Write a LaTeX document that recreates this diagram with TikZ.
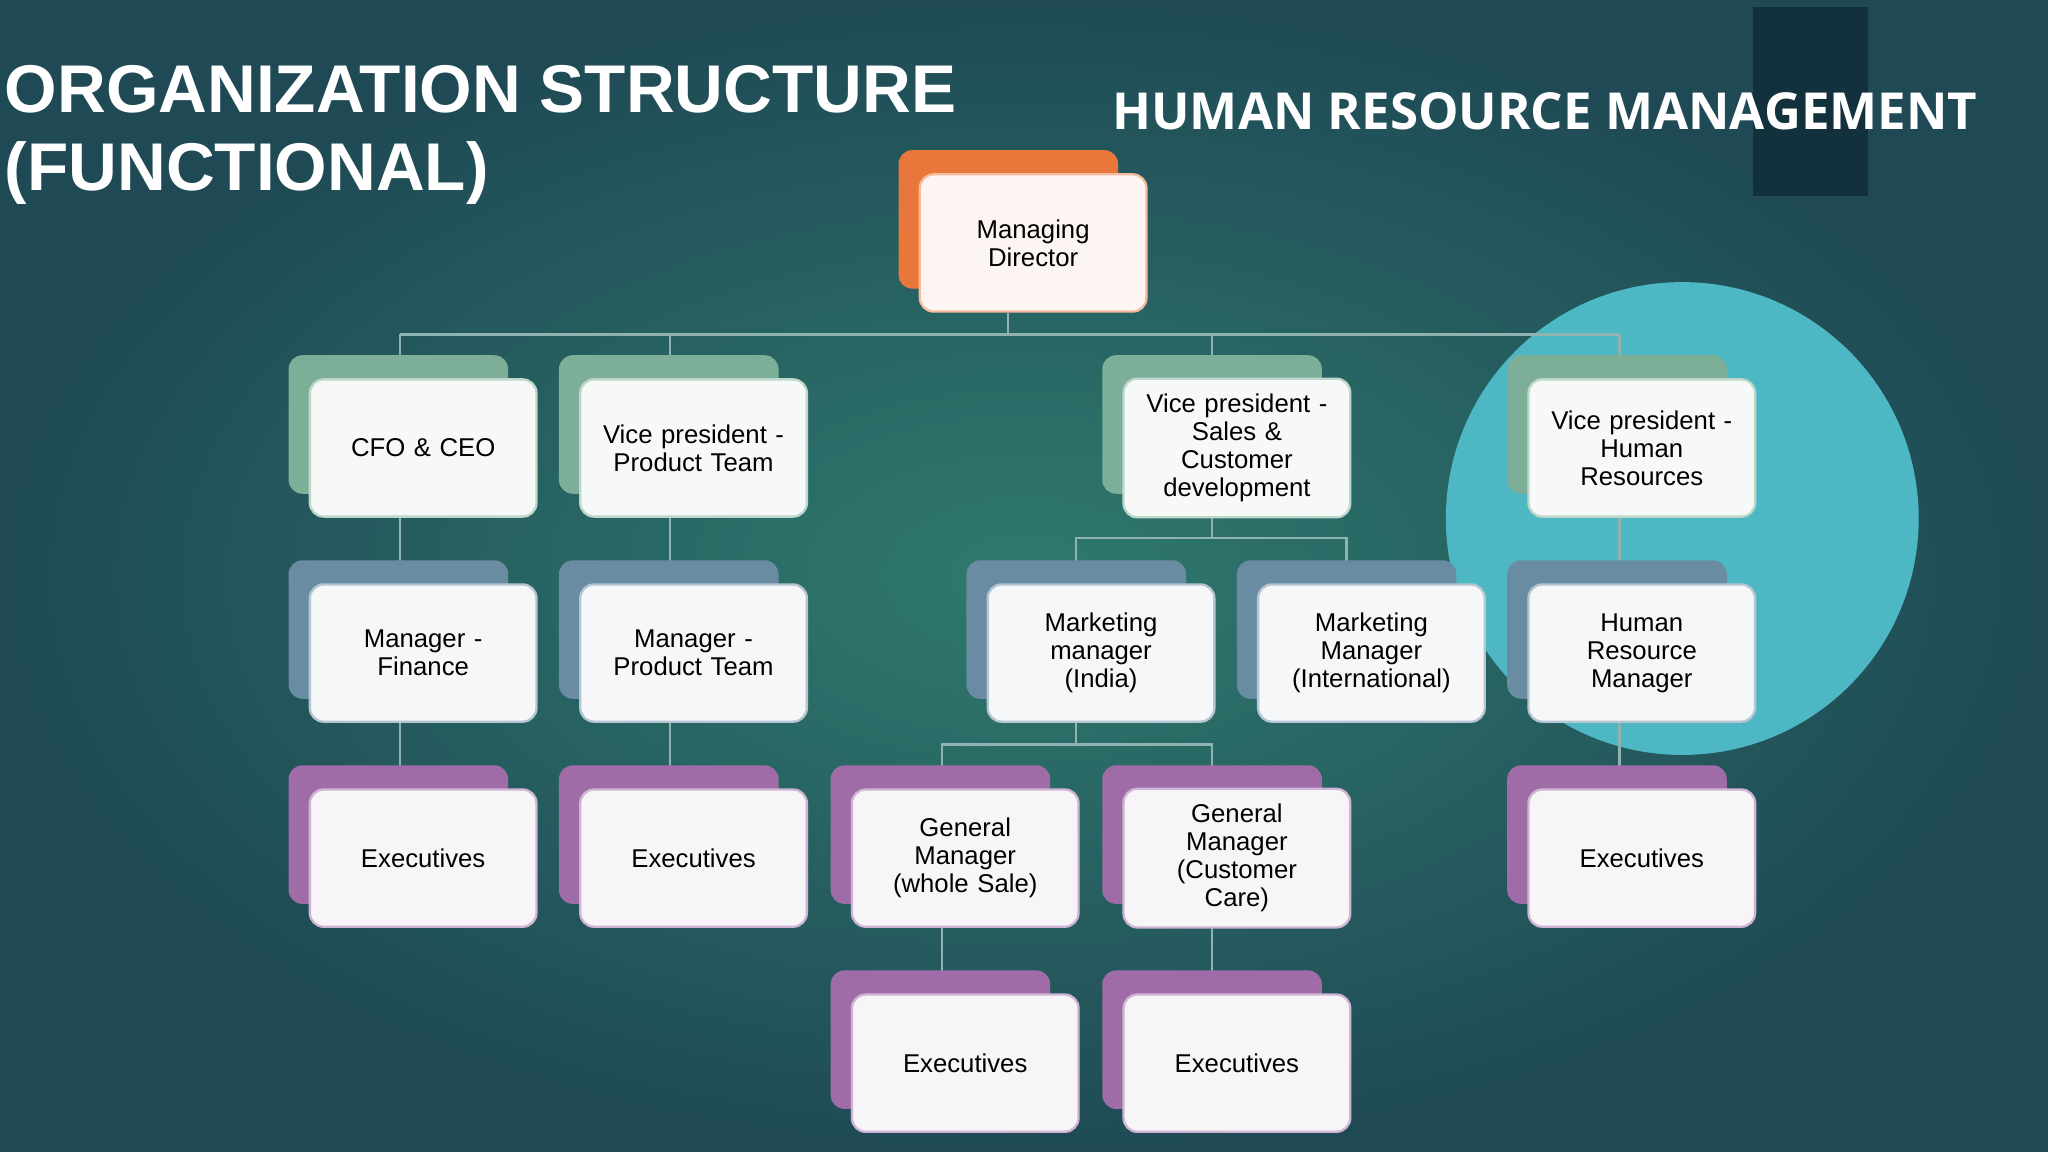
\documentclass[tikz,border=0pt]{standalone}
\usepackage{fontspec}
\setmainfont{Liberation Sans}
\newfontfamily\osans{Open Sans}
\usetikzlibrary{calc}
\definecolor{bgin}{HTML}{2F7A6E}
\definecolor{bgout}{HTML}{1F4A55}
\definecolor{cgreen}{HTML}{7DAF98}
\definecolor{cblue}{HTML}{6A8CA3}
\definecolor{cpurp}{HTML}{A06CA8}
\definecolor{corange}{HTML}{E9773C}
\definecolor{circ}{HTML}{4DB8C4}
\definecolor{lncol}{HTML}{8FB3B0}
\definecolor{darkbar}{HTML}{13313C}
\tikzset{
 frontbox/.style={draw=#1!50!white,line width=0.5pt,fill=white!93!#1,rounded corners=3pt,minimum width=1.66cm,minimum height=1.05cm,align=center,font=\fontsize{5.6}{6.1}\selectfont,text width=1.5cm},
 backbox/.style={fill=#1,rounded corners=3pt,minimum width=1.68cm,minimum height=1.06cm},
 conn/.style={draw=lncol,line width=0.5pt}
}
\begin{document}
\begin{tikzpicture}[x=0.01cm,y=-0.01cm]
\useasboundingbox (0,0) rectangle (1568,882);
\shade[inner color=bgin,outer color=bgout] (0,0) rectangle (1568,882);
\fill[circ] (1288,397) circle (181);
\fill[darkbar] (1342,5) rectangle (1430,150);
\node[anchor=west,inner sep=0pt,font=\bfseries\fontsize{14.7}{17}\selectfont,text=white,align=left] (t1) at (3,103) {ORGANIZATION STRUCTURE\\(FUNCTIONAL)};
\node[anchor=west,inner sep=0pt,font=\osans\bfseries\fontsize{11.1}{13}\selectfont,text=white] (t2) at (851,85) {HUMAN RESOURCE MANAGEMENT};
% connectors
\coordinate (h1) at (306,256); \coordinate (h2) at (1240,256);
\draw[conn] (h1) -- (h2);
\coordinate (mdc) at (772,256); \draw[conn] (772,240) -- (mdc);
\foreach \x in {306,513,928,1240}{\draw[conn] (\x,256) -- (\x,272);}
\draw[conn] (306,396) -- (306,430); \draw[conn] (306,553) -- (306,587);
\draw[conn] (513,396) -- (513,430); \draw[conn] (513,553) -- (513,587);
\draw[conn] (1240,396) -- (1240,430); \draw[conn] (1240,553) -- (1240,587);
\draw[conn] (928,396) -- (928,412); \draw[conn] (824,430) -- (824,412) -- (1031,412) -- (1031,430);
\draw[conn] (824,553) -- (824,570); \draw[conn] (721,587) -- (721,570) -- (928,570) -- (928,587);
\draw[conn] (721,710) -- (721,744); \draw[conn] (928,710) -- (928,744);
% boxes
\foreach \n/\x/\y/\c/\t in {
 md/791/186/corange/{Managing\\Director},
 cfo/324/343/cgreen/{CFO \& CEO},
 vpp/531/343/cgreen/{Vice president -\\Product Team},
 vps/947/343/cgreen/{Vice president -\\Sales \&\\Customer\\development},
 vph/1257/343/cgreen/{Vice president -\\Human\\Resources},
 mf/324/500/cblue/{Manager -\\Finance},
 mp/531/500/cblue/{Manager -\\Product Team},
 mi/843/500/cblue/{Marketing\\manager\\(India)},
 mint/1050/500/cblue/{Marketing\\Manager\\(International)},
 hrm/1257/500/cblue/{Human\\Resource\\Manager},
 e1/324/657/cpurp/{Executives},
 e2/531/657/cpurp/{Executives},
 gw/739/657/cpurp/{General\\Manager\\(whole Sale)},
 gc/947/657/cpurp/{General\\Manager\\(Customer\\Care)},
 e3/1257/657/cpurp/{Executives},
 e4/739/814/cpurp/{Executives},
 e5/947/814/cpurp/{Executives}}{
 \node[backbox=\c] (\n b) at (\x-19,\y-18) {};
 \node[frontbox=\c] (\n) at (\x,\y) {\t};
}
\end{tikzpicture}
\end{document}
